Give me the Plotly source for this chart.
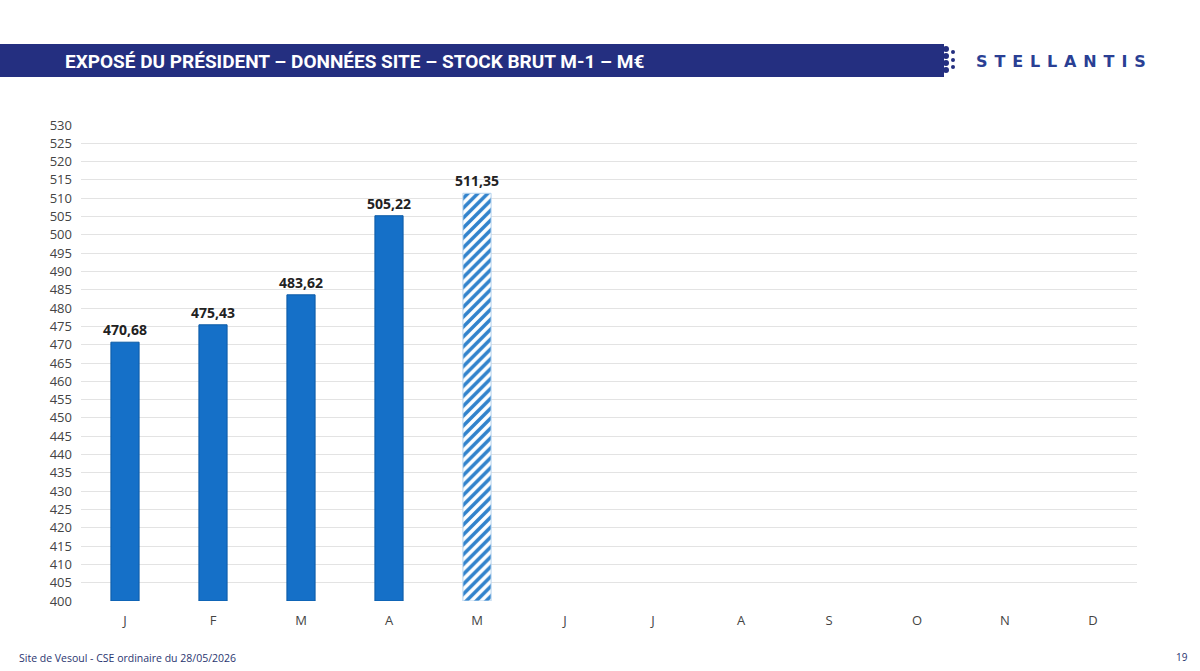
import plotly.graph_objects as go

months = ["J", "F", "M", "A", "M", "J", "J", "A", "S", "O", "N", "D"]
values = [470.68, 475.43, 483.62, 505.22, 511.35]
hatched = [False, False, False, False, True]
y_ticks = list(range(400, 531, 5))

positions = list(range(len(months)))
labels = [f"{v:.2f}".replace(".", ",") for v in values]

solid_x = [positions[i] for i in range(len(values)) if not hatched[i]]
solid_y = [values[i] for i in range(len(values)) if not hatched[i]]
solid_t = [labels[i] for i in range(len(values)) if not hatched[i]]
hatch_x = [positions[i] for i in range(len(values)) if hatched[i]]
hatch_y = [values[i] for i in range(len(values)) if hatched[i]]
hatch_t = [labels[i] for i in range(len(values)) if hatched[i]]

label_font = dict(family="Open Sans", size=14, color="#222222", weight="bold")

fig = go.Figure()
fig.add_trace(go.Bar(
    x=solid_x, y=[v - 400 for v in solid_y], base=400, width=0.32,
    text=solid_t, textposition="outside", constraintext="none",
    textfont=label_font, cliponaxis=False,
    marker=dict(color="#1570c8", line=dict(color="#0b5aa6", width=1)),
    hoverinfo="skip",
))
fig.add_trace(go.Bar(
    x=hatch_x, y=[v - 400 for v in hatch_y], base=400, width=0.32,
    text=hatch_t, textposition="outside", constraintext="none",
    textfont=label_font, cliponaxis=False,
    marker=dict(color="#ffffff", line=dict(color="#b5d3ee", width=1),
                pattern=dict(shape="/", fgcolor="#3283cc", bgcolor="#ffffff",
                             size=7, solidity=0.5, fillmode="replace")),
    hoverinfo="skip",
))

fig.update_layout(
    width=1200, height=671,
    margin=dict(l=81, r=63, t=125, b=70),
    paper_bgcolor="white", plot_bgcolor="white",
    showlegend=False, barmode="overlay",
    font=dict(family="Open Sans", color="#444444"),
    xaxis=dict(
        range=[-0.5, len(months) - 0.5],
        tickvals=positions, ticktext=months,
        showgrid=False, zeroline=False, showline=False,
        tickfont=dict(size=13, color="#444444"),
        ticks="", ticklabelstandoff=10,
    ),
    yaxis=dict(
        range=[400, 530],
        tickvals=y_ticks,
        showgrid=True, gridcolor="#e3e3e3", gridwidth=1,
        zeroline=False, showline=False,
        tickfont=dict(size=13, color="#444444"),
        ticks="", ticklabelstandoff=8,
    ),
)

# paper coordinate helpers (plot area: x 81..1137, y 125..601)
def px(x):
    return (x - 81) / 1056

def py(y):
    return (601 - y) / 476

shapes = [
    dict(type="rect", xref="paper", yref="paper", x0=px(0), x1=px(944),
         y0=py(77), y1=py(44), fillcolor="#242f80", line=dict(width=0), layer="above"),
]
dots = [(946, 49, 3), (946, 56, 3), (946, 63, 3), (946, 70, 3),
        (953, 52, 2), (953, 60, 2), (953, 67, 2)]
for cx, cy, r in dots:
    shapes.append(dict(type="circle", xref="paper", yref="paper",
                       x0=px(cx - r), x1=px(cx + r), y0=py(cy + r), y1=py(cy - r),
                       fillcolor="#242f80", line=dict(width=0)))
fig.update_layout(shapes=shapes)

fig.add_annotation(
    xref="paper", yref="paper", x=px(63), y=py(61), xanchor="left", yanchor="middle",
    text="EXPOSÉ DU PRÉSIDENT – DONNÉES SITE – STOCK BRUT M-1 – M€",
    showarrow=False, font=dict(family="Roboto", size=19, color="white", weight="bold"),
)
gap = "\u2004\u200a"
fig.add_annotation(
    xref="paper", yref="paper", x=px(1061), y=py(61), xanchor="center", yanchor="middle",
    text=gap.join("STELLANTIS"),
    showarrow=False, font=dict(family="DejaVu Sans", size=16, color="#2a3f94", weight="bold"),
)
fig.add_annotation(
    xref="paper", yref="paper", x=px(17), y=py(658), xanchor="left", yanchor="middle",
    text="Site de Vesoul - CSE ordinaire du 28/05/2026",
    showarrow=False, font=dict(family="Open Sans", size=10.5, color="#2a3570"),
)
fig.add_annotation(
    xref="paper", yref="paper", x=px(1190), y=py(657), xanchor="right", yanchor="middle",
    text="19", showarrow=False, font=dict(family="Open Sans", size=10, color="#2a3570"),
)

fig.write_html("out.html")
